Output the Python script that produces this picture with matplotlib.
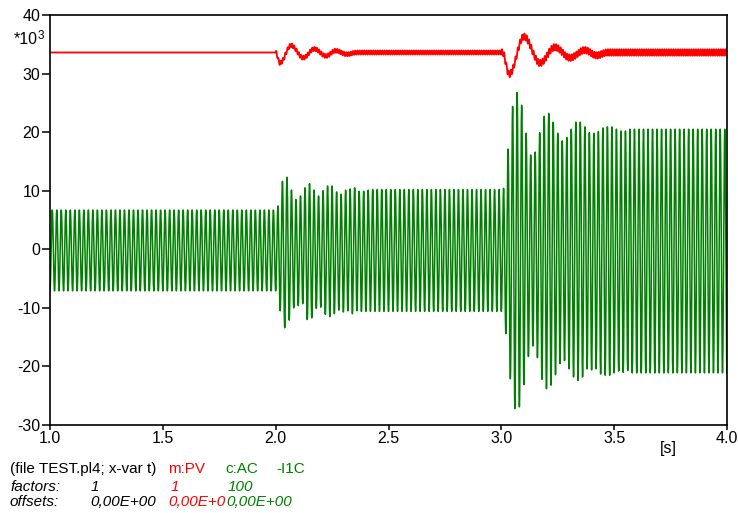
import numpy as np
import matplotlib.pyplot as plt

plt.rcParams['font.family'] = ['Liberation Sans', 'DejaVu Sans']

# ---- data (values in units of 10^3) ----
# green c:AC-I1C, 50 Hz current: positive peaks at 1.01, 1.03, ... 3.99 s
green_pos = ([6.7] * 50
             + [7.4, 11.6, 12.3, 10.1, 8.5, 9.1, 10.5, 11.2, 10.1, 9.1, 10.0,
                10.8, 10.8, 9.8, 9.4, 10.1, 10.3, 10.5, 9.9, 9.9, 10.1]
             + [10.2] * 29
             + [10.4, 17.1, 24.4, 26.8, 24.6, 19.8, 16.1, 16.6, 19.9, 22.7,
                23.2, 21.7, 19.8, 18.5, 19.1, 20.5, 21.7, 21.7, 20.9, 19.9,
                19.8, 20.1, 20.7, 20.9, 20.9, 20.5, 20.2, 20.2]
             + [20.5] * 22)
# negative peaks at 1.00, 1.02, ... 4.00 s
green_neg = ([-7.1] * 51
             + [-10.5, -13.4, -12.1, -10.0, -9.6, -9.3, -12.0, -11.7, -10.1,
                -9.9, -11.1, -11.5, -11.0, -10.4, -10.7, -10.5, -11.0, -10.5]
             + [-10.6] * 32
             + [-14.4, -22.1, -27.2, -26.9, -23.1, -18.3, -16.5, -18.5, -22.2,
                -23.8, -23.2, -21.4, -19.5, -19.0, -20.4, -21.8, -22.4, -21.8,
                -20.4, -20.6, -20.4, -21.3, -21.5, -21.5, -21.1, -20.8, -21.0,
                -20.7]
             + [-21.1] * 22)

# red m:PV, slow swings (turning points)
red_t = [1.0, 2.0, 2.019, 2.068, 2.122, 2.171, 2.223, 2.265, 2.315, 2.36,
         3.005, 3.035, 3.10, 3.171, 3.237, 3.304, 3.37, 3.422, 3.47, 4.0]
red_v = [33.6, 33.6, 31.8, 34.8, 32.7, 34.2, 33.0, 33.9, 33.3, 33.6,
         33.6, 29.9, 36.3, 31.8, 34.5, 32.7, 34.0, 33.1, 33.6, 33.6]
# ripple on the red trace, per interval
red_ripple_t = [1.0, 2.0, 3.0, 4.0]
red_ripple = [0.0, 0.35, 0.55]

x_ticks = [1.0, 1.5, 2.0, 2.5, 3.0, 3.5, 4.0]
x_ticklabels = ['1.0', '1.5', '2.0', '2.5', '3.0', '3.5', '4.0']
y_ticks = [-30, -20, -10, 0, 10, 20, 30, 40]


def shape(tk, vk, t):
    # half-cosine between consecutive turning points
    tk = np.asarray(tk)
    vk = np.asarray(vk)
    i = np.clip(np.searchsorted(tk, t, side='right') - 1, 0, len(tk) - 2)
    ph = (t - tk[i]) / (tk[i + 1] - tk[i])
    return (vk[i] + vk[i + 1]) / 2 + (vk[i] - vk[i + 1]) / 2 * np.cos(np.pi * ph)


t = np.linspace(1.0, 4.0, 12001)

# green: interleave negative / positive peaks every 10 ms
g_times = 1.0 + 0.01 * np.arange(2 * len(green_pos) + 1)
g_vals = np.empty(len(g_times))
g_vals[0::2] = green_neg
g_vals[1::2] = green_pos
green = shape(g_times, g_vals, t)

j = np.clip(np.searchsorted(red_ripple_t, t, side='right') - 1, 0, len(red_ripple) - 1)
red = shape(red_t, red_v, t) + np.array(red_ripple)[j] * np.sin(2 * np.pi * 100 * t)

fig = plt.figure(figsize=(7.38, 5.13), dpi=100)
ax = fig.add_axes([50 / 738, 88 / 513, 677 / 738, 410 / 513])

ax.plot(t, green, color='#008000', linewidth=1.1)
ax.plot(t, red, color='#ff0000', linewidth=1.3)

ax.set_xlim(1.0, 4.0)
ax.set_ylim(-30, 40)
ax.set_xticks(x_ticks)
ax.set_xticklabels(x_ticklabels)
ax.set_yticks(y_ticks)
ax.set_yticklabels([str(v) for v in y_ticks])
ax.tick_params(axis='y', direction='out', length=6, width=1.1, pad=1, labelsize=11.5)
ax.tick_params(axis='x', direction='out', length=3.5, width=1.1, pad=1, labelsize=11.5)
for s in ax.spines.values():
    s.set_linewidth(1.2)

fig.text(14 / 738, 1 - 40 / 513, '*10', fontsize=11.5, va='center', ha='left')
fig.text(38 / 738, 1 - 36 / 513, '3', fontsize=8.5, va='center', ha='left')
fig.text(668 / 738, 1 - 449 / 513, '[s]', fontsize=11.5, va='center', ha='center')

# legend lines at the bottom
def line(x, y, s, c='black', it=False):
    fig.text(x / 738, 1 - y / 513, s, color=c, fontsize=11, va='baseline',
             ha='left', style='italic' if it else 'normal')


line(10, 473, '(file TEST.pl4; x-var t)')
line(168, 473, 'm:PV', '#ff0000')
line(225, 473, 'c:AC', '#008000')
line(276, 473, '-I1C', '#008000')
line(10, 491, 'factors:', it=True)
line(91, 491, '1', it=True)
line(171, 491, '1', '#ff0000', True)
line(228, 491, '100', '#008000', True)
line(10, 506, 'offsets:', it=True)
line(90, 506, '0,00E+00', it=True)
line(168, 506, '0,00E+0', '#ff0000', True)
line(226, 506, '0,00E+00', '#008000', True)

fig.savefig('out.png', dpi=100, facecolor='white')
